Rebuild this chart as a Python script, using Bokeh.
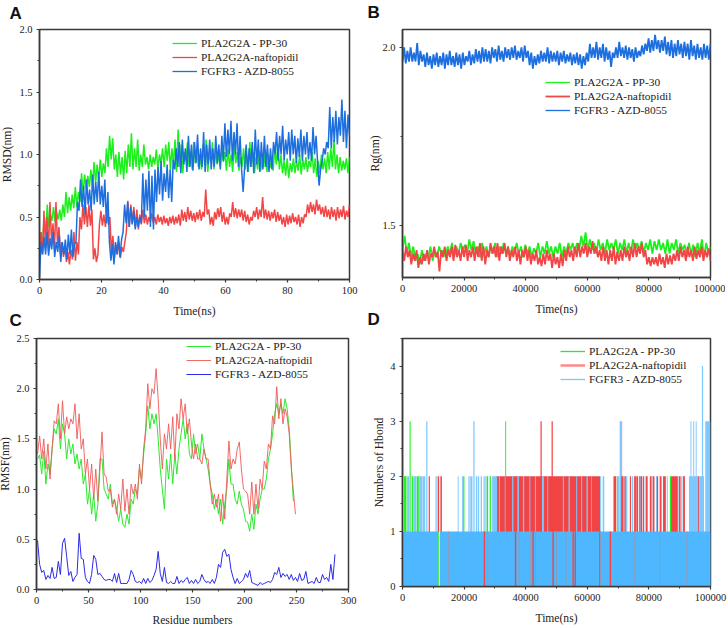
from bokeh.plotting import figure
from bokeh.layouts import column, row
from bokeh.models import Legend, LegendItem, Title, Range1d, SingleIntervalTicker, NumeralTickFormatter, BasicTickFormatter
from bokeh.embed import file_html
from bokeh.resources import INLINE
import numpy as np

names = ["PLA2G2A - PP-30", "PLA2G2A-naftopidil", "FGFR3 - AZD-8055"]

# Panel A: RMSD (nm), alternating samples, 0-100 ns
a_green = [.30,.38,.28,.50,.37,.60,.42,.52,.47,.58,.46,.54,.48,.56,.47,.60,.50,.70,.53,.66,
 .55,.68,.57,.74,.58,.70,.62,.85,.68,.84,.72,.83,.74,.88,.73,.94,.77,.92,.80,.96,.82,.93,.85,1.05,.9,1.15,.96,1.13,.88,1.0,.82,1.02,.84,.98,.8,1.03,.85,1.08,.9,1.17,
 .88,1.05,.9,1.12,.87,1.0,.9,1.08,.92,.98,.88,1.0,.9,.98,.92,1.04,.88,1.0,.93,1.05,
 .9,1.08,.95,1.1,.88,1.05,.92,1.12,.86,1.2,.9,1.08,.85,1.02,.95,1.1,.9,1.03,.88,1.1,.93,1.05,.9,1.0,.88,1.08,.92,1.12,.86,1.0,.95,1.1,.88,1.04,.92,1.0,.9,1.06,.94,1.02,
 .87,1.05,.9,1.0,.86,1.08,.93,1.02,.87,.98,.9,1.05,.88,1.0,.86,1.1,.9,1.02,.85,.98,.88,1.03,.87,.97,.9,1.04,.86,1.0,.89,.98,.87,1.05,.92,1.08,.88,1.0,.85,.95,.83,.97,
 .81,.93,.86,.97,.85,.95,.87,1.0,.84,.96,.88,.98,.86,.95,.9,1.02,.85,.97,.82,.95,.85,1.0,.88,.97,.85,1.02,.88,1.05,.9,1.12,.88,1.0,.85,.98,.87,.95,.88,.97,.85,.98]
a_red = [.22,.38,.2,.55,.25,.5,.22,.62,.3,.45,.24,.62,.28,.42,.2,.3,.18,.26,.14,.22,.12,.24,
 .16,.38,.15,.3,.2,.5,.4,.6,.44,.58,.42,.6,.43,.56,.16,.25,.14,.2,.44,.55,
 .43,.52,.42,.54,.44,.5,.22,.35,.17,.28,.2,.3,.17,.26,.22,.3,.38,.63,.42,.6,.45,.58,.42,.56,.4,.52,.44,.56,
 .45,.52,.44,.5,.46,.53,.45,.5,.44,.52,.46,.5,.44,.51,.45,.49,.43,.5,.45,.51,.44,.5,
 .45,.52,.43,.56,.47,.54,.46,.58,.48,.55,.47,.53,.46,.54,.48,.56,.47,.54,.5,.72,.52,.56,.44,.5,.43,.54,.48,.57,.5,.58,.46,.54,.44,.5,.44,.53,.5,.62,.5,.57,.49,.56,
 .5,.56,.47,.55,.46,.52,.44,.5,.47,.55,.5,.58,.48,.56,.5,.66,.49,.56,.48,.55,.47,.54,.49,.56,.46,.54,.47,.52,.44,.5,.42,.52,.44,.51,.45,.53,.46,.5,.44,.52,.42,.5,
 .45,.52,.5,.6,.53,.62,.54,.6,.52,.64,.55,.6,.52,.58,.5,.59,.5,.56,.48,.58,.5,.56,.47,.58,.49,.56,.5,.59,.48,.55,.5,.6]
a_blue = [.02,.30,.2,.34,.2,.38,.19,.33,.24,.38,.18,.30,.22,.35,.14,.30,.2,.32,.16,.36,.2,.4,.18,.28,
 .3,.62,.55,.8,.58,.75,.52,.8,.6,.72,.55,.84,.6,.78,.62,.86,.6,.75,.58,.8,.45,.7,
 .3,.15,.28,.12,.3,.2,.35,.18,.32,.38,.6,.45,.62,.42,.58,.44,.55,.4,.5,.42,.5,.45,
 .85,.5,.8,.55,.87,.42,.83,.4,.88,.62,.9,.68,.95,.63,.85,.7,.92,.65,.88,.62,.96,
 .88,1.05,.9,1.1,.85,1.12,.92,1.05,.86,1.15,.9,1.08,.87,1.1,.93,1.16,.88,1.05,.9,1.18,.86,1.08,.92,1.12,.88,1.05,.9,1.15,.93,1.08,.88,1.15,
 .95,1.25,.98,1.2,1.0,1.27,.95,1.18,1.0,1.25,.9,1.15,.88,.7,.9,1.08,.86,1.05,.9,1.1,.85,1.2,.92,1.12,.86,1.1,.88,1.15,.9,1.08,.86,1.05,.88,1.1,
 1.0,1.18,.95,1.15,1.0,1.23,.95,1.12,1.0,1.18,.95,1.2,1.0,1.15,.93,1.13,.98,1.2,.95,1.15,1.0,1.18,.96,1.1,.95,1.22,1.0,1.15,.94,.75,.88,.95,1.05,1.0,1.1,1.05,1.38,1.05,1.3,1.1,1.35,1.08,1.3,1.15,1.44,1.1,1.35,1.05,1.32,1.15]

# Panel B: radius of gyration (nm), 0-100000 ns
b_green = [1.43,1.47,1.42,1.45,1.41,1.44,1.40,1.42,1.39,1.43,1.40,1.42,1.41,1.44,1.40,1.43,1.41,1.44,1.42,1.43,1.41,1.44,1.42,1.45,1.41,1.44,1.42,1.45,1.43,1.445,1.42,1.46,1.43,1.455,1.42,1.44,1.41,1.45,1.42,1.44,1.41,1.445,1.42,1.45,1.41,1.44,1.42,1.45,1.42,1.44,1.41,1.44,1.42,1.45,1.42,1.44,1.41,1.445,1.42,1.44,1.41,1.435,1.42,1.45,1.41,1.44,1.42,1.455,1.42,1.44,1.41,1.44,1.42,1.45,1.41,1.44,1.42,1.45,1.43,1.45,1.42,1.45,1.43,1.47,1.44,1.48,1.43,1.46,1.43,1.45,1.42,1.46,1.43,1.45,1.42,1.46,1.43,1.45,1.43,1.46,1.42,1.45,1.43,1.46,1.42,1.45,1.42,1.46,1.43,1.45,1.43,1.455,1.42,1.45,1.43,1.46,1.42,1.455,1.43,1.46,1.43,1.45,1.42,1.46,1.42,1.45,1.43,1.46,1.42,1.45,1.43,1.445,1.41,1.45,1.42,1.445,1.41,1.45,1.42,1.46,1.41,1.45,1.42,1.44]
b_red = [1.43,1.40,1.44,1.41,1.43,1.39,1.42,1.40,1.43,1.38,1.41,1.39,1.42,1.40,1.43,1.39,1.42,1.41,1.44,1.41,1.425,1.37,1.43,1.41,1.44,1.40,1.43,1.41,1.44,1.40,1.445,1.41,1.43,1.40,1.44,1.41,1.445,1.40,1.43,1.41,1.44,1.40,1.44,1.41,1.45,1.40,1.44,1.39,1.43,1.41,1.45,1.42,1.44,1.41,1.45,1.40,1.44,1.42,1.45,1.41,1.44,1.40,1.43,1.41,1.44,1.40,1.43,1.39,1.43,1.41,1.44,1.40,1.43,1.39,1.42,1.40,1.43,1.39,1.41,1.385,1.42,1.39,1.43,1.40,1.42,1.38,1.42,1.39,1.41,1.38,1.42,1.385,1.43,1.40,1.44,1.41,1.43,1.40,1.44,1.41,1.45,1.41,1.44,1.42,1.45,1.41,1.44,1.42,1.455,1.42,1.44,1.41,1.43,1.40,1.44,1.40,1.43,1.39,1.43,1.40,1.44,1.39,1.425,1.40,1.43,1.40,1.44,1.41,1.43,1.40,1.44,1.41,1.45,1.41,1.44,1.42,1.45,1.41,1.43,1.39,1.41,1.385,1.41,1.39,1.41,1.385,1.42,1.39,1.41,1.38,1.42,1.39,1.415,1.39,1.42,1.40,1.43,1.40,1.44,1.41,1.43,1.40,1.44,1.41,1.43,1.40,1.44,1.405,1.43,1.41,1.44,1.40,1.43,1.41,1.435,1.40]
b_blue = [1.96,2.0,1.955,1.99,1.96,2.0,1.96,1.985,1.96,2.012,1.95,1.99,1.96,1.98,1.945,1.985,1.95,1.975,1.94,1.98,1.95,1.985,1.945,1.975,1.95,1.985,1.94,1.98,1.95,1.99,1.95,1.975,1.945,1.985,1.95,1.98,1.94,1.985,1.95,1.975,1.96,1.99,1.95,1.98,1.955,1.995,1.96,1.99,1.955,2.0,1.96,1.995,1.96,1.99,1.955,2.0,1.97,1.995,1.96,2.005,1.965,1.99,1.96,2.0,1.97,1.995,1.965,2.0,1.97,2.005,1.965,1.99,1.97,2.0,1.96,2.005,1.97,1.99,1.95,1.985,1.94,1.975,1.95,1.98,1.955,1.99,1.96,1.985,1.96,2.0,1.955,1.99,1.96,1.985,1.96,1.99,1.95,1.985,1.96,1.99,1.955,1.98,1.96,1.985,1.95,1.98,1.955,1.985,1.95,1.98,1.94,1.975,1.95,1.985,1.96,2.01,1.97,2.0,1.97,2.015,1.965,2.0,1.97,2.01,1.96,2.0,1.965,1.99,1.945,1.985,1.97,2.0,1.97,2.015,1.975,2.0,1.97,2.005,1.965,2.0,1.97,1.995,1.96,2.0,1.97,1.99,1.975,2.005,1.98,2.01,1.99,2.025,1.985,2.02,1.99,2.035,1.995,2.02,1.985,2.02,1.99,2.03,1.98,2.015,1.975,2.02,1.97,2.01,1.975,2.02,1.98,2.01,1.97,2.015,1.975,2.01,1.965,2.02,1.975,2.005,1.965,2.01,1.97,2.0,1.965,2.01,1.97,2.005,1.965,2.01]

# Panel C: RMSF (nm) by residue
c_green = [1.3,1.34,1.15,1.38,1.05,1.25,1.15,1.4,1.6,1.55,1.7,1.4,1.65,1.55,1.3,1.5,1.35,1.45,1.25,1.35,1.2,1.3,1.05,1.15,.85,1.0,.75,.95,.68,.85,1.3,1.3,1.0,.95,.9,1.05,.85,.9,.8,.68,.8,.65,.62,.75,.65,.9,.85,1.0,.95,1.2,1.1,1.35,1.55,1.83,1.6,1.75,1.65,1.75,1.5,1.2,1.0,.8,1.3,1.1,1.35,1.05,1.35,1.15,1.4,1.55,1.7,1.5,1.65,1.35,1.3,1.55,1.35,1.45,1.3,1.55,1.4,1.3,1.2,1.05,.95,.8,.9,.75,.9,.65,.85,1.0,1.3,1.05,1.05,.9,.85,.98,.85,.8,.68,.67,.58,.75,.6,.85,.75,.9,1.0,1.0,1.1,1.3,1.4,1.55,1.75,1.85,1.75,1.85,1.75,1.9,1.8,1.6,1.25,.88]
c_red = [1.35,1.53,1.3,1.5,1.2,1.45,1.1,1.4,1.68,1.65,1.85,1.5,1.88,1.55,1.72,1.6,1.7,1.65,1.85,1.5,1.75,1.4,1.5,1.15,1.3,1.0,1.25,.9,1.2,.88,1.2,1.57,1.15,1.12,.98,1.0,.82,.9,.75,.95,.8,1.1,.78,1.0,.75,1.05,.95,1.05,.9,1.25,1.05,1.4,1.6,2.05,1.8,2.0,1.95,2.2,1.9,1.5,1.2,1.55,1.4,1.65,1.4,1.72,1.3,1.75,1.6,1.9,1.7,1.85,1.55,1.7,1.45,1.3,1.45,1.3,1.3,1.25,1.4,1.3,1.3,1.05,.85,.95,.82,.95,.68,.95,.7,1.1,1.48,1.2,1.3,1.25,1.4,1.47,1.2,1.0,.98,.95,.75,1.07,.75,1.05,.8,1.1,1.0,1.28,1.2,1.45,1.4,1.73,1.65,2.02,1.7,1.9,1.65,1.8,1.72,1.55,1.2,.98,.75]
c_blue = [.49,.25,.17,.19,.1,.14,.11,.22,.11,.12,.28,.15,.46,.51,.33,.14,.18,.08,.12,.15,.56,.31,.3,.12,.08,.06,.15,.34,.3,.15,.16,.13,.1,.09,.1,.1,.08,.16,.07,.16,.06,.06,.06,.06,.1,.19,.15,.08,.07,.08,.06,.11,.06,.11,.07,.09,.14,.2,.38,.16,.08,.22,.07,.06,.08,.06,.06,.13,.06,.09,.07,.1,.12,.06,.09,.06,.1,.06,.08,.15,.1,.07,.08,.06,.1,.06,.12,.25,.22,.37,.4,.33,.35,.2,.12,.06,.11,.06,.08,.1,.16,.12,.19,.07,.06,.05,.04,.07,.05,.06,.07,.08,.07,.1,.17,.15,.22,.12,.16,.13,.15,.1,.15,.09,.12,.08,.16,.09,.1,.18,.06,.07,.08,.06,.12,.07,.07,.15,.1,.12,.08,.25,.1,.35]

# Panel D: hydrogen-bond counts as time intervals (ns)
d_green_left  = [500,2300,3000,4600,19700,27300,28300,33350,69600,86800]
d_green_right = [1300,2650,3400,5300,20100,27800,28700,33650,69900,87200]
d_green_top   = [2,3,2,2,2,2,2,3,2,2]
d_red_left  = [8500,11400,12300,30400,44800,48400,68500,70900,71100,72000,73800,75200,75900,76800,78000,79000,80300,81200,82400,83500,84600,87200,89700,91100,95800]
d_red_right = [8900,11900,12800,64180,45200,48800,69400,71800,71300,72500,74200,75800,76500,77800,78400,79600,80900,81800,83000,84100,85500,89400,90300,91700,96300]
d_red_top   = [2,2,2,2,3,3,2,2,3,2,2,2,2,2,2,2,2,2,2,2,2,2,2,2,2]
d_blue_base_left, d_blue_base_right, d_blue_base_top = [0], [100000], [1]
d_blue_left  = [1500,3500,5400,6500,7700,10700,17900,19300,21400,22000,23000,23800,24400,25400,26300,26900,29100,31300,33200,35600,37300,39100,41200,43000,45300,47000,52060,53900,56390,58000,59740,61260,64180,65000,69900,70500,71700,72600,74500,77000,78600,80800,82300,84000,85800,86000,89400,90500,93000,93500,94400,95200,96300,97200,98300]
d_blue_right = [2200,4500,6400,7400,8100,11100,18200,19600,21800,22700,23400,24200,24900,25800,26700,27200,30700,31600,33450,36000,37800,39500,41500,43300,45900,47300,52380,54330,56710,58330,60170,61470,64500,65500,70400,71000,72000,73000,74900,77300,78900,81100,82600,84300,86000,86200,89600,90900,96000,93800,94700,95500,97900,97600,100000]
d_blue_top   = [2,2,2,2,3,2,2,2,2,2,3,2,2,2,2,2,2,2,2,2,2,2,2,2,2,2,2,2,2,2,2,2,2,2,2,3,2,2,2,2,2,2,2,2,2,2,2,2,2,3,3,3,2,4,3]
d_gap_red   = [26600,36700,42400,48900,55400,56100,64100,67500]
d_gap_faint = [14900,27700,37800,41600,43200,53100,75400,83500,92300,50000,64300]
d_gap_green = [11700]
d_gap_white = [12000]

INK = "#3a3a3a"
SERIF = "Liberation Serif"

def base(fw, fh, l, r, t, b, xr, yr, xlabel, ylabel, xint, yint, xfmt, yfmt, ylab_off, xlab_off):
    p = figure(width=l + fw + r, height=t + fh + b, frame_width=fw, frame_height=fh,
               x_range=Range1d(*xr), y_range=Range1d(*yr), output_backend="svg",
               toolbar_location=None, min_border_left=l, min_border_right=r,
               min_border_top=t, min_border_bottom=b, background_fill_color="white",
               border_fill_color=None)
    p.grid.visible = False
    p.outline_line_color = INK
    p.outline_line_width = 1.5
    p.xaxis.ticker = SingleIntervalTicker(interval=xint, num_minor_ticks=2)
    p.yaxis.ticker = SingleIntervalTicker(interval=yint, num_minor_ticks=2)
    p.xaxis.formatter = xfmt
    p.yaxis.formatter = yfmt
    p.xaxis.axis_label = xlabel
    p.yaxis.axis_label = ylabel
    for ax in (p.xaxis[0], p.yaxis[0]):
        ax.axis_line_color = INK
        ax.axis_line_width = 1.5
        ax.major_tick_line_color = INK
        ax.minor_tick_line_color = INK
        ax.major_tick_line_width = 1.2
        ax.minor_tick_line_width = 1.0
        ax.major_tick_in = 0
        ax.minor_tick_in = 0
        ax.major_tick_out = 3
        ax.minor_tick_out = 2
        ax.major_label_text_font = SERIF
        ax.major_label_text_font_size = "10.5px"
        ax.major_label_text_color = "#222222"
        ax.major_label_standoff = 4
        ax.axis_label_text_font = SERIF
        ax.axis_label_text_font_size = "11.6px"
        ax.axis_label_text_font_style = "normal"
        ax.axis_label_text_color = "#222222"
    p.yaxis[0].axis_label_standoff = ylab_off
    p.xaxis[0].axis_label_standoff = xlab_off
    return p

def legend(p, renderers, x, y):
    lg = Legend(items=[LegendItem(label=n, renderers=[r]) for n, r in zip(names, renderers)],
                location=(x, y), background_fill_alpha=0, border_line_alpha=0,
                padding=0, margin=0, spacing=1, glyph_width=25, glyph_height=10,
                label_height=13, label_standoff=4, label_text_font=SERIF,
                label_text_font_size="11.4px", label_text_color="#222222",
                label_text_line_height=1.0)
    p.add_layout(lg, "center")

def letter(p, text, offset, standoff):
    p.add_layout(Title(text=text, align="left", vertical_align="top", offset=offset, standoff=standoff,
                       text_font="Liberation Sans", text_font_style="bold",
                       text_font_size="17px", text_color="#111111"), "above")

def keys(p, colors_widths):
    # legend-only lines lying outside the visible ranges
    return [p.line([-5e5, -4e5], [-5, -4], line_color=c, line_width=w) for c, w in colors_widths]

plain = lambda: BasicTickFormatter(use_scientific=False)
fmt = lambda: NumeralTickFormatter(format="0.0")
GREEN, RED, BLUE = "#1cf01c", "#f24646", "#1d6fe0"

# ---------- A
pa = base(310, 250, 43, 12, 32, 43, (0, 100), (0, 2), "Time(ns)", "RMSD(nm)", 20, 0.5, plain(), fmt(), 2, 8)
for ys, c in ((a_green, GREEN), (a_red, RED), (a_blue, BLUE)):
    pa.line(np.linspace(0, 100, len(ys)), ys, line_color=c, line_width=1.5)
legend(pa, keys(pa, ((GREEN, 1.3), (RED, 1.3), (BLUE, 1.3))), 133, 202)
letter(pa, "A", -30, 9)

# ---------- B
pb = base(308, 248, 41, 15, 35, 42, (0, 100000), (1.353, 2.05), "Time(ns)", "Rg(nm)", 20000, 0.5, plain(), fmt(), -3, 8)
for ys, c in ((b_green, GREEN), (b_red, RED), (b_blue, BLUE)):
    pb.line(np.linspace(0, 100000, len(ys)), ys, line_color=c, line_width=1.8)
legend(pb, keys(pb, ((GREEN, 1.3), (RED, 1.8), (BLUE, 1.3))), 143, 161)
letter(pb, "B", -35, 11)

# ---------- C
pc = base(312, 251, 40, 14, 34, 39, (0, 300), (0, 2.5), "Residue numbers", "RMSF(nm)", 50, 0.5, plain(), fmt(), 1, 7)
rg = pc.line(np.arange(1, 2 * len(c_green), 2), c_green, line_color="#2ee82e", line_width=1)
rr = pc.line(np.arange(1, 2 * len(c_red), 2), c_red, line_color="#f05a5a", line_width=1, line_alpha=0.9)
rbl = pc.line(np.arange(1, 2 * len(c_blue), 2), c_blue, line_color="#2a2ae8", line_width=1)
legend(pc, [rg, rr, rbl], 150, 209)
letter(pc, "C", -27, 13)

# ---------- D
pd = base(308, 248, 40, 18, 36, 38, (0, 100000), (0, 4.5), "Time(ns)", "Numbers of Hbond", 20000, 1, plain(), plain(), 1, 8)
pd.quad(left=d_green_left, right=d_green_right, bottom=0, top=d_green_top, fill_color="#22ee22", line_color=None)
pd.quad(left=d_red_left, right=d_red_right, bottom=0, top=d_red_top, fill_color="#f24444", line_color=None)
pd.quad(left=d_blue_left, right=d_blue_right, bottom=0, top=d_blue_top, fill_color="#7cc8ff", line_color=None)
pd.quad(left=d_blue_base_left, right=d_blue_base_right, bottom=0, top=d_blue_base_top, fill_color="#4db8ff", line_color=None)
pd.vbar(x=d_gap_red, width=450, bottom=0, top=1, fill_color="#f24444", line_color=None)
pd.vbar(x=d_gap_faint, width=300, bottom=0, top=1, fill_color="#8f9ab8", line_color=None)
pd.vbar(x=d_gap_green, width=300, bottom=0, top=1, fill_color="#55ee44", line_color=None)
pd.vbar(x=d_gap_white, width=250, bottom=0, top=1, fill_color="#ffffff", line_color=None)
legend(pd, keys(pd, (("#22ee22", 1.3), ("#ff8888", 2.5), ("#7cc8ff", 1.3))), 158, 201)
letter(pd, "D", -35, 15)

row1 = row(pa, pb, spacing=0)
row2 = row(pc, pd, spacing=0, margin=(-17, 0, 0, 0))
layout = column(row1, row2, spacing=0, margin=(-6, 0, 0, -4))
open("out.html", "w").write(file_html(layout, INLINE))
